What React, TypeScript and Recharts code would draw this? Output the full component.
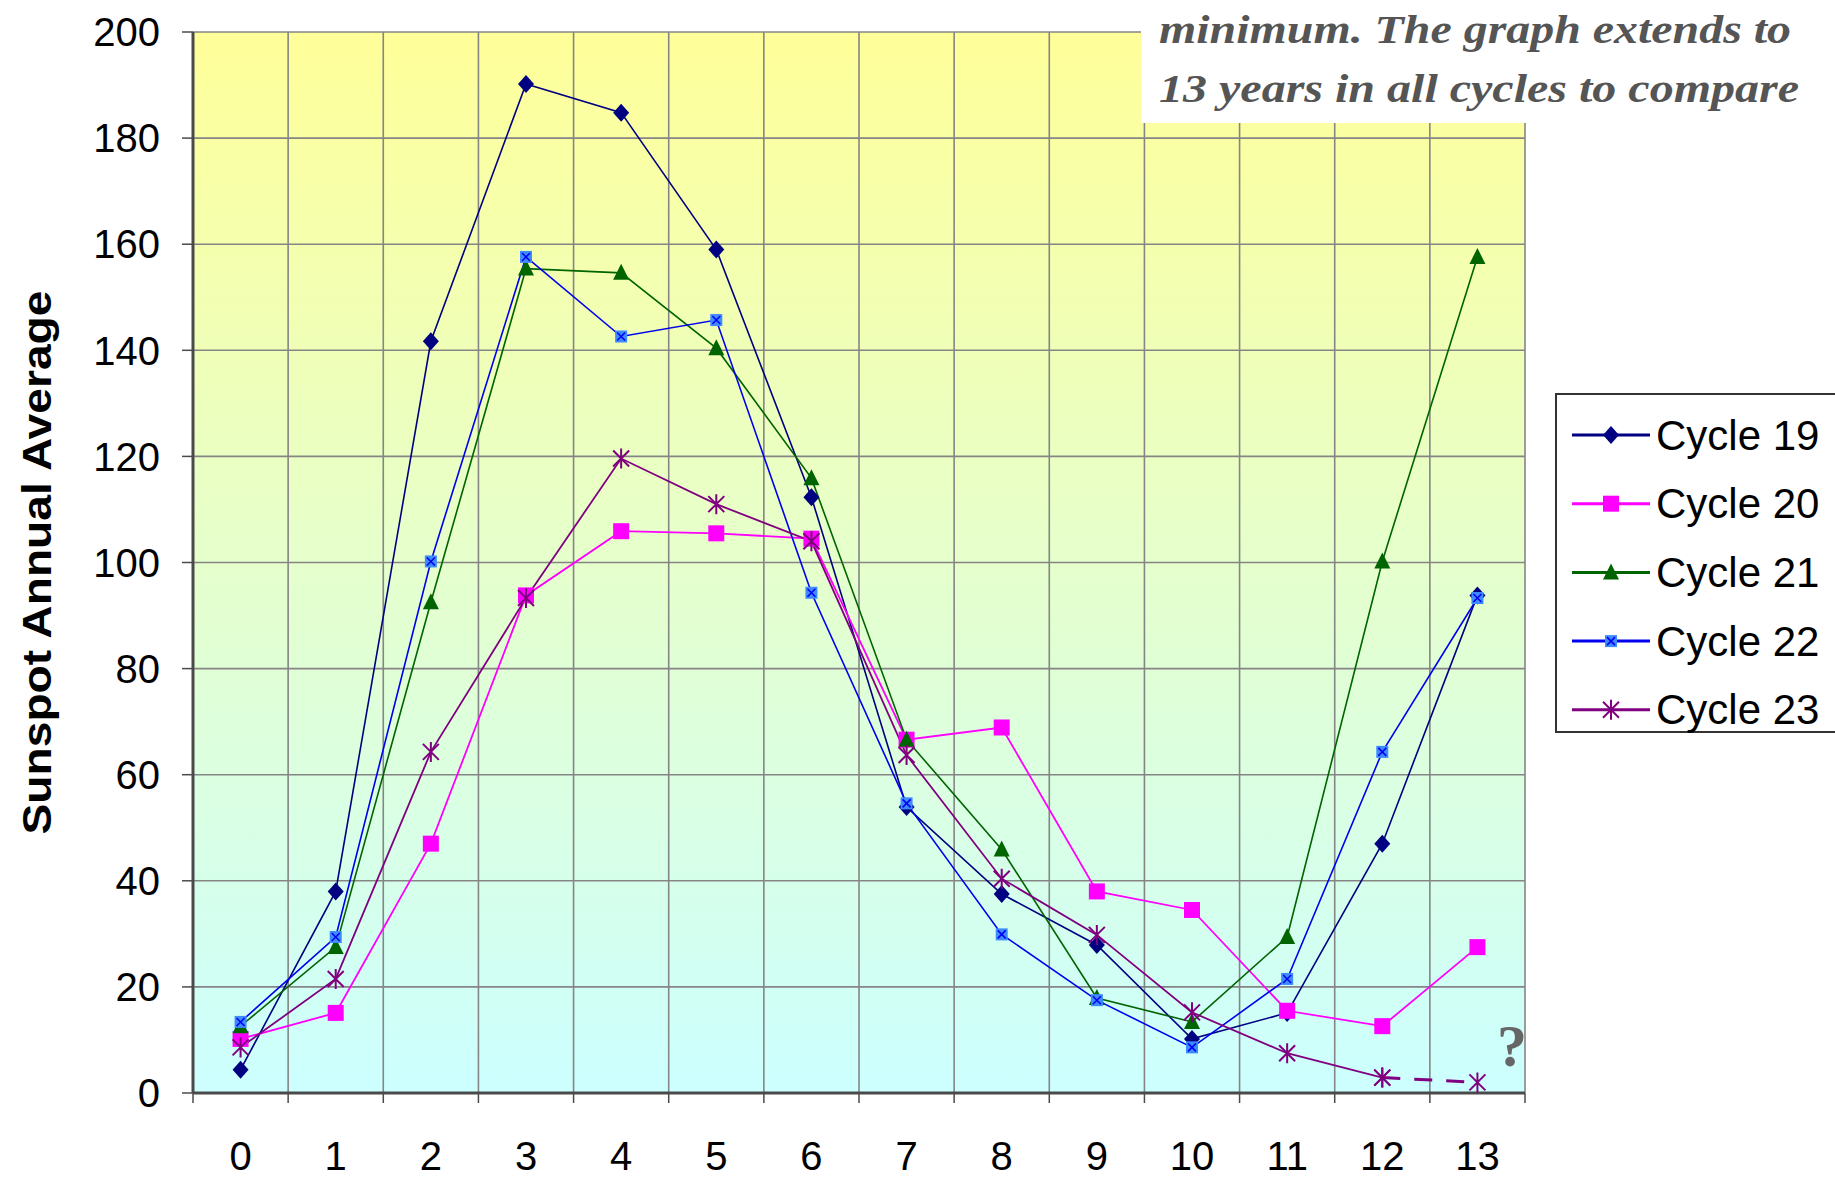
import { CartesianGrid, Label, Line, LineChart, XAxis, YAxis } from 'recharts';

// years since solar minimum
const years = [0, 1, 2, 3, 4, 5, 6, 7, 8, 9, 10, 11, 12, 13];
const cycle19 = [4.4, 38.0, 141.7, 190.2, 184.8, 159.0, 112.3, 53.9, 37.5, 27.9, 10.2, 15.1, 47.0, 93.8];
const cycle20 = [10.2, 15.1, 47.0, 93.8, 105.9, 105.5, 104.5, 66.6, 68.9, 38.0, 34.5, 15.5, 12.6, 27.5];
const cycle21 = [12.6, 27.5, 92.5, 155.4, 154.6, 140.4, 115.9, 66.6, 45.9, 17.9, 13.4, 29.4, 100.2, 157.6];
const cycle22 = [13.4, 29.4, 100.2, 157.6, 142.6, 145.7, 94.3, 54.6, 29.9, 17.5, 8.6, 21.5, 64.3, 93.3];
const cycle23 = [8.6, 21.5, 64.3, 93.3, 119.6, 111.0, 104.0, 63.7, 40.4, 29.8, 15.2, 7.5, 2.9, 2.0];
// last year of cycle 23 is a projection, drawn dashed
const cycle23LastMeasured = 12;

const yTicks = [0, 20, 40, 60, 80, 100, 120, 140, 160, 180, 200];
const gridTicks = [-0.5, 0.5, 1.5, 2.5, 3.5, 4.5, 5.5, 6.5, 7.5, 8.5, 9.5, 10.5, 11.5, 12.5, 13.5];

const series = [
    { key: 'c19', name: 'Cycle 19', color: '#000080', marker: 'diamond', width: 1.6 },
    { key: 'c20', name: 'Cycle 20', color: '#ff00ff', marker: 'square', width: 1.8 },
    { key: 'c21', name: 'Cycle 21', color: '#006400', marker: 'triangle', width: 1.6 },
    { key: 'c22', name: 'Cycle 22', color: '#0000ee', marker: 'xsquare', width: 1.6 },
    { key: 'c23', name: 'Cycle 23', color: '#800080', marker: 'star', width: 1.8 },
];

const data = years.map((x, i) => ({
    x,
    c19: cycle19[i],
    c20: cycle20[i],
    c21: cycle21[i],
    c22: cycle22[i],
    c23: i <= cycle23LastMeasured ? cycle23[i] : null,
    c23proj: i >= cycle23LastMeasured ? cycle23[i] : null,
}));

const serif = "'Liberation Serif', 'Times New Roman', Tinos, 'DejaVu Serif Condensed', serif";
const sans = "'Liberation Sans', Arial, sans-serif";

const Marker = ({ kind, cx, cy, color }: { kind: string; cx: number; cy: number; color: string }) => {
    if (kind === 'diamond') {
        return <polygon points={`${cx},${cy - 9} ${cx + 8},${cy} ${cx},${cy + 9} ${cx - 8},${cy}`} fill={color} />;
    }
    if (kind === 'square') {
        return <rect x={cx - 8} y={cy - 8} width={16} height={16} fill={color} />;
    }
    if (kind === 'triangle') {
        return <polygon points={`${cx},${cy - 9} ${cx + 8},${cy + 7} ${cx - 8},${cy + 7}`} fill={color} />;
    }
    if (kind === 'xsquare') {
        return (
            <g>
                <rect x={cx - 6} y={cy - 6} width={12} height={12} fill="#3d8bff" />
                <path d={`M${cx - 4},${cy - 4}L${cx + 4},${cy + 4}M${cx + 4},${cy - 4}L${cx - 4},${cy + 4}`} stroke={color} strokeWidth={1.5} />
            </g>
        );
    }
    return (
        <path
            d={`M${cx - 8},${cy - 8}L${cx + 8},${cy + 8}M${cx + 8},${cy - 8}L${cx - 8},${cy + 8}M${cx},${cy - 10}L${cx},${cy + 10}`}
            stroke={color}
            strokeWidth={2}
        />
    );
};

const dotFor = (kind: string, color: string) => (p: any) => {
    if (p.value == null || p.cy == null || Number.isNaN(p.cy)) return <g key={`d-${p.index}`} />;
    return (
        <g key={`d-${p.index}`}>
            <Marker kind={kind} cx={p.cx} cy={p.cy} color={color} />
        </g>
    );
};

const YTitle = ({ viewBox }: any) => {
    const cx = viewBox.x + 37;
    const cy = viewBox.y + viewBox.height / 2;
    return (
        <text
            x={cx}
            y={cy}
            transform={`rotate(-90 ${cx} ${cy})`}
            textAnchor="middle"
            dominantBaseline="central"
            fontFamily={sans}
            fontWeight="bold"
            fontSize={40}
            textLength={544}
            lengthAdjust="spacingAndGlyphs"
            fill="#000"
        >
            Sunspot Annual Average
        </text>
    );
};

const tickStyle = { fontFamily: sans, fontSize: 40, fill: '#000' };

const App = () => {
    return (
        <div style={{ position: 'absolute', left: 0, top: 0, width: 1835, height: 1178, background: '#fff', overflow: 'hidden' }}>
            <LineChart width={1835} height={1178} data={data} margin={{ top: 32, right: 310, left: 0, bottom: 0 }}>
                <defs>
                    <linearGradient id="plotBg" x1="0" y1="0" x2="0" y2="1">
                        <stop offset="0%" stopColor="#ffff99" />
                        <stop offset="100%" stopColor="#ccffff" />
                    </linearGradient>
                </defs>
                <CartesianGrid xAxisId="grid" fill="url(#plotBg)" fillOpacity={1} stroke="#858585" strokeWidth={1.6} />
                <XAxis
                    xAxisId="grid"
                    dataKey="x"
                    type="number"
                    domain={[-0.5, 13.5]}
                    ticks={gridTicks}
                    interval={0}
                    tickFormatter={() => ''}
                    tickSize={10}
                    height={20}
                    stroke="#4a4a4a"
                    axisLine={{ stroke: '#4a4a4a', strokeWidth: 3 }}
                    tickLine={{ stroke: '#4a4a4a', strokeWidth: 1.5 }}
                    allowDataOverflow
                />
                <XAxis
                    xAxisId="labels"
                    dataKey="x"
                    type="number"
                    domain={[-0.5, 13.5]}
                    ticks={years}
                    interval={0}
                    axisLine={false}
                    tickLine={false}
                    tickSize={0}
                    tickMargin={29}
                    height={65}
                    tick={tickStyle}
                    allowDataOverflow
                />
                <YAxis
                    width={193}
                    domain={[0, 200]}
                    ticks={yTicks}
                    interval={0}
                    tickSize={11}
                    tickMargin={22}
                    tick={tickStyle}
                    axisLine={{ stroke: '#4a4a4a', strokeWidth: 3 }}
                    tickLine={{ stroke: '#4a4a4a', strokeWidth: 1.5 }}
                >
                    <Label content={<YTitle />} />
                </YAxis>
                {series.map((s) => (
                    <Line
                        key={s.key}
                        xAxisId="grid"
                        type="linear"
                        dataKey={s.key}
                        name={s.name}
                        stroke={s.color}
                        strokeWidth={s.width}
                        dot={dotFor(s.marker, s.color)}
                        activeDot={false}
                        isAnimationActive={false}
                    />
                ))}
                <Line
                    xAxisId="grid"
                    type="linear"
                    dataKey="c23proj"
                    stroke="#800080"
                    strokeWidth={3}
                    strokeDasharray="18 14"
                    dot={dotFor('star', '#800080')}
                    activeDot={false}
                    legendType="none"
                    isAnimationActive={false}
                />
            </LineChart>

            {/* note box from the original slide, cut off at the top */}
            <div style={{ position: 'absolute', left: 1141, top: 0, width: 694, height: 123, background: '#fff' }}>
                <svg width={694} height={123}>
                    <text x={18} y={43} textLength={632} lengthAdjust="spacingAndGlyphs" fontFamily={serif} fontStyle="italic" fontWeight="bold" fontSize={40} fill="#555">
                        minimum. The graph extends to
                    </text>
                    <text x={18} y={102} textLength={640} lengthAdjust="spacingAndGlyphs" fontFamily={serif} fontStyle="italic" fontWeight="bold" fontSize={40} fill="#555">
                        13 years in all cycles to compare
                    </text>
                </svg>
            </div>

            <div style={{ position: 'absolute', left: 1497, top: 1016, fontFamily: serif, fontWeight: 'bold', fontSize: 60, lineHeight: '60px', color: '#666' }}>
                ?
            </div>

            <div
                style={{
                    position: 'absolute',
                    left: 1555,
                    top: 393,
                    width: 300,
                    height: 340,
                    border: '2px solid #333',
                    background: '#fff',
                    boxSizing: 'border-box',
                }}
            >
                <svg width={300} height={340}>
                    {series.map((s, i) => {
                        const cy = 40 + i * 68.7;
                        return (
                            <g key={s.key}>
                                <line x1={15} x2={93} y1={cy} y2={cy} stroke={s.color} strokeWidth={3} />
                                <Marker kind={s.marker} cx={54} cy={cy} color={s.color} />
                                <text x={99} y={cy} dominantBaseline="central" fontFamily={sans} fontSize={42} fill="#000">
                                    {s.name}
                                </text>
                            </g>
                        );
                    })}
                </svg>
            </div>
        </div>
    );
};

export default App;
